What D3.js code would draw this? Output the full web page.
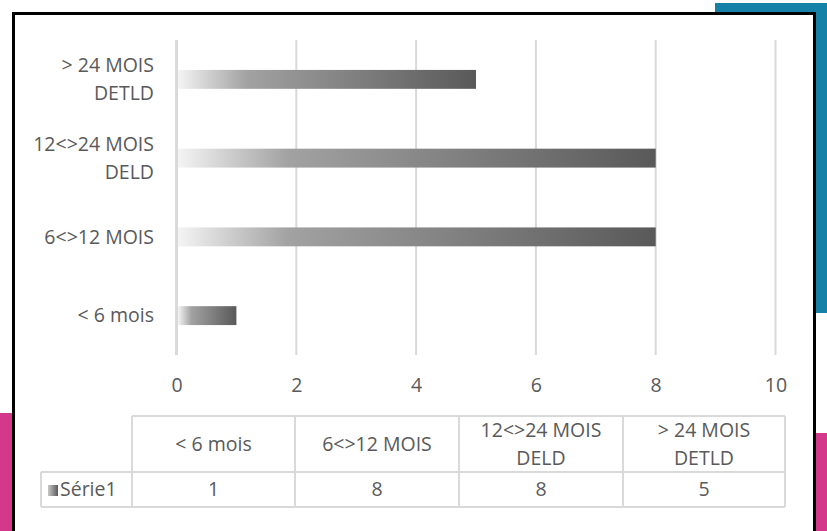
<!DOCTYPE html>
<html>
<head>
<meta charset="utf-8">
<script src="https://cdn.jsdelivr.net/npm/d3@7/dist/d3.min.js"></script>
<style>
  html, body { margin: 0; padding: 0; background: #ffffff; }
  svg { display: block; }
  text { font-family: "Open Sans", sans-serif; fill: #595959; }
</style>
</head>
<body>
<svg id="chart" width="827" height="531"></svg>
<script>
// Categories (table order, bottom bar first) and their values
const categories = ["< 6 mois", "6<>12 MOIS", "12<>24 MOIS\nDELD", "> 24 MOIS\nDETLD"];
const values = [1, 8, 8, 5];
const seriesName = "Série1";
const xTicks = [0, 2, 4, 6, 8, 10];

const FONT = "'Open Sans', sans-serif";
const FS = 19.5;
const LINE = 28;

const svg = d3.select("#chart");

// Decorative page shapes behind the chart frame
svg.append("rect").attr("x", 715).attr("y", 3).attr("width", 112).attr("height", 310).attr("fill", "#1581a7");
svg.append("rect").attr("x", 0).attr("y", 413).attr("width", 14).attr("height", 118).attr("fill", "#d4388a");
svg.append("rect").attr("x", 813).attr("y", 433).attr("width", 14).attr("height", 98).attr("fill", "#d4388a");

// Chart frame
svg.append("rect").attr("x", 13.5).attr("y", 13.5).attr("width", 801).attr("height", 540)
  .attr("fill", "#ffffff").attr("stroke", "#000000").attr("stroke-width", 3);

// Bar gradient
const defs = svg.append("defs");
const grad = defs.append("linearGradient").attr("id", "barGrad")
  .attr("x1", "0%").attr("x2", "100%").attr("y1", "0%").attr("y2", "0%");
grad.append("stop").attr("offset", "0%").attr("stop-color", "#f4f4f4");
grad.append("stop").attr("offset", "23%").attr("stop-color", "#a2a2a2");
grad.append("stop").attr("offset", "100%").attr("stop-color", "#595959");

const keyGrad = defs.append("linearGradient").attr("id", "keyGrad")
  .attr("x1", "0%").attr("x2", "100%").attr("y1", "0%").attr("y2", "0%");
keyGrad.append("stop").attr("offset", "0%").attr("stop-color", "#c8c8c8");
keyGrad.append("stop").attr("offset", "100%").attr("stop-color", "#595959");

// Scales
const x = d3.scaleLinear().domain([0, 10]).range([176.5, 775.5]);
const y = d3.scaleBand().domain(categories.slice().reverse()).range([40, 355])
  .paddingInner(0.76).paddingOuter(0.38);

// Gridlines
const grid = svg.append("g");
grid.selectAll("line").data(xTicks).join("line")
  .attr("x1", d => x(d)).attr("x2", d => x(d))
  .attr("y1", 40).attr("y2", 355)
  .attr("stroke", "#d9d9d9")
  .attr("stroke-width", d => d === 0 ? 3 : 2);

// Bars
svg.append("g").selectAll("rect").data(categories).join("rect")
  .attr("x", x(0) + 1.5)
  .attr("y", d => y(d))
  .attr("width", (d, i) => x(values[i]) - x(0) - 1.5)
  .attr("height", y.bandwidth())
  .attr("fill", "url(#barGrad)");

// Category labels
const catG = svg.append("g");
categories.forEach(c => {
  const lines = c.split("\n");
  const cy = y(c) + y.bandwidth() / 2;
  const t = catG.append("text").attr("text-anchor", "end").attr("font-size", FS);
  lines.forEach((ln, k) => {
    t.append("tspan").attr("x", 154)
      .attr("y", cy + (k - (lines.length - 1) / 2) * LINE)
      .attr("dy", "0.35em").text(ln);
  });
});

// Value axis labels
const xAxis = d3.axisBottom(x).tickValues(xTicks).tickSize(0).tickPadding(0);
const axG = svg.append("g").attr("transform", "translate(0,385)").call(xAxis);
axG.select(".domain").remove();
axG.selectAll("text").attr("font-size", FS).attr("fill", "#595959")
  .attr("dy", "0.35em").attr("y", 0).style("font-family", FONT);

// Data table
const colEdges = [132, 295, 459, 623, 785];
const rowTop = 416, rowMid = 472, rowBot = 507, legLeft = 41;
const tbl = svg.append("g").attr("stroke", "#d9d9d9").attr("stroke-width", 2);
tbl.append("line").attr("x1", colEdges[0]).attr("x2", colEdges[4]).attr("y1", rowTop).attr("y2", rowTop);
tbl.append("line").attr("x1", legLeft).attr("x2", colEdges[4]).attr("y1", rowMid).attr("y2", rowMid);
tbl.append("line").attr("x1", legLeft).attr("x2", colEdges[4]).attr("y1", rowBot).attr("y2", rowBot);
tbl.append("line").attr("x1", legLeft).attr("x2", legLeft).attr("y1", rowMid).attr("y2", rowBot);
colEdges.forEach(cx => {
  tbl.append("line").attr("x1", cx).attr("x2", cx).attr("y1", rowTop).attr("y2", rowBot);
});

const tblText = svg.append("g");
categories.forEach((c, i) => {
  const cx = (colEdges[i] + colEdges[i + 1]) / 2;
  const lines = c.split("\n");
  const t = tblText.append("text").attr("text-anchor", "middle").attr("font-size", FS);
  lines.forEach((ln, k) => {
    t.append("tspan").attr("x", cx)
      .attr("y", (rowTop + rowMid) / 2 + (k - (lines.length - 1) / 2) * LINE)
      .attr("dy", "0.35em").text(ln);
  });
  tblText.append("text").attr("text-anchor", "middle").attr("font-size", FS)
    .attr("x", cx).attr("y", (rowMid + rowBot) / 2).attr("dy", "0.35em").text(values[i]);
});

// Legend key in the table
svg.append("rect").attr("x", 48).attr("y", 485).attr("width", 10).attr("height", 11).attr("fill", "url(#keyGrad)");
svg.append("text").attr("x", 60).attr("y", (rowMid + rowBot) / 2).attr("dy", "0.35em")
  .attr("font-size", FS).text(seriesName);
</script>
</body>
</html>
